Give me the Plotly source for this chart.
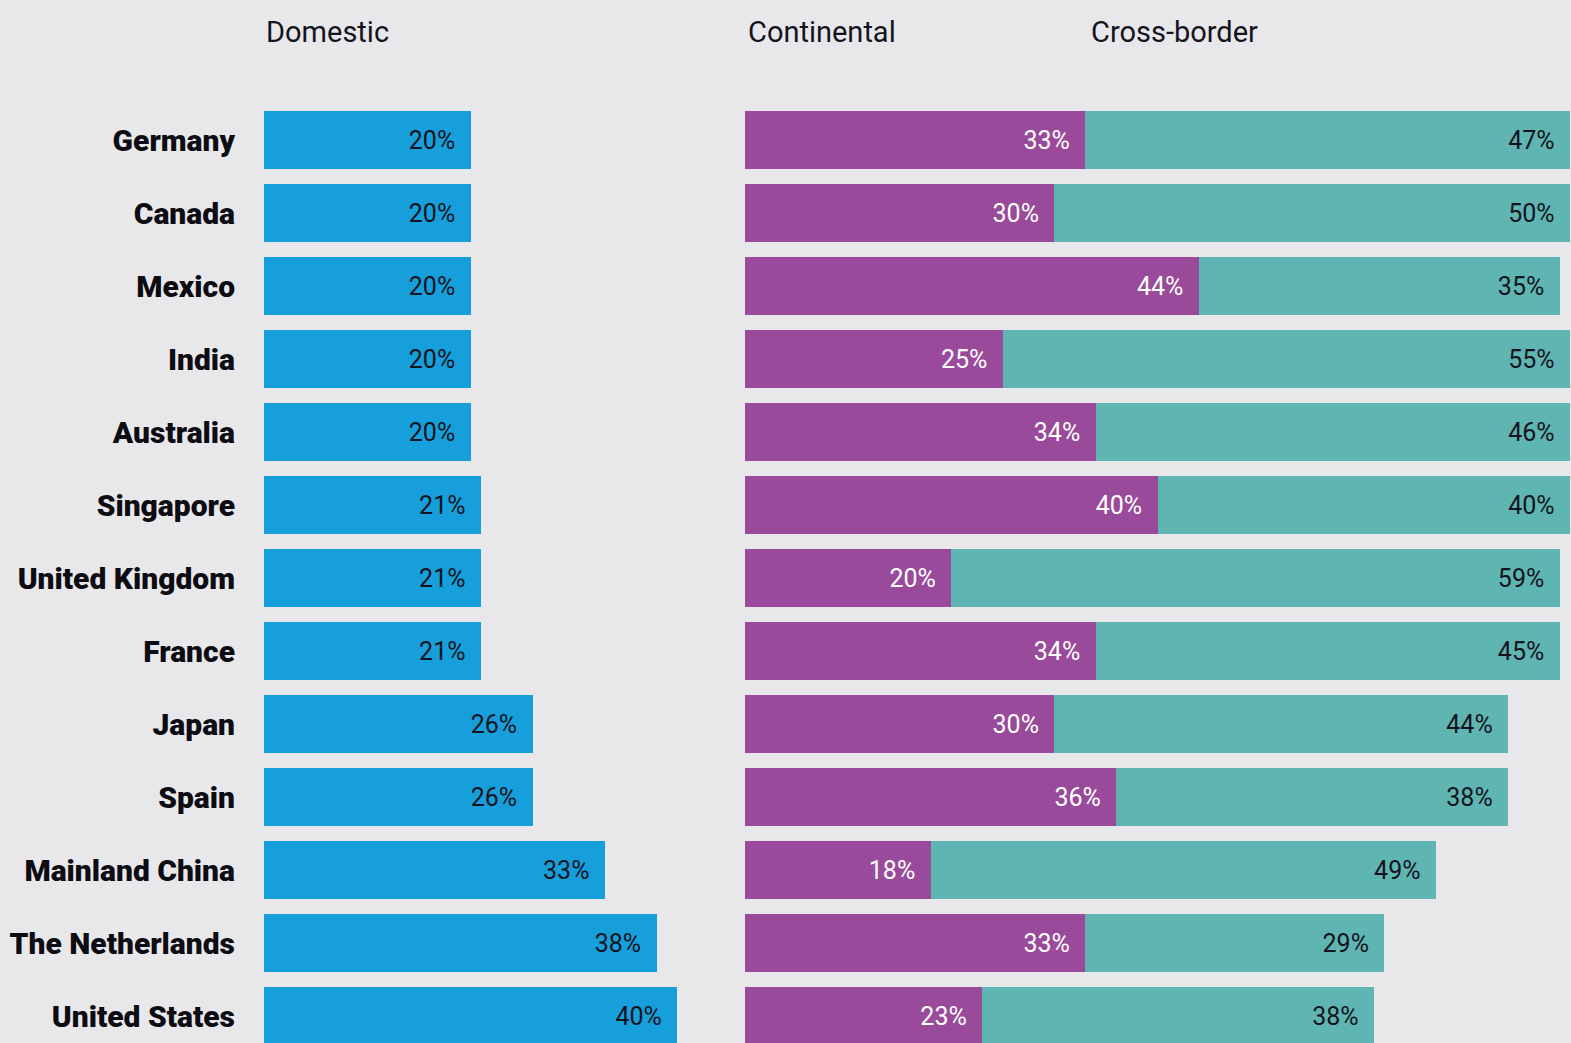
import plotly.graph_objects as go

countries = ["Germany", "Canada", "Mexico", "India", "Australia", "Singapore",
             "United Kingdom", "France", "Japan", "Spain", "Mainland China",
             "The Netherlands", "United States"]
domestic = [20, 20, 20, 20, 20, 21, 21, 21, 26, 26, 33, 38, 40]
continental = [33, 30, 44, 25, 34, 40, 20, 34, 30, 36, 18, 33, 23]
cross_border = [47, 50, 35, 55, 46, 40, 59, 45, 44, 38, 49, 29, 38]

W, H = 1571, 1043
BG = "#e8e8eb"
BLUE = "#169fdb"
PURPLE = "#9a4a9a"
TEAL = "#5fb5b2"
DARK = "#141420"
PAD = "\u00a0\u00a0"

fig = go.Figure()
fig.add_trace(go.Bar(
    y=countries, x=domestic, orientation="h", marker_color=BLUE,
    marker_line_width=0, width=0.8,
    text=[f"{v}%{PAD}" for v in domestic], textposition="inside",
    insidetextanchor="end", textangle=0,
    textfont=dict(family="Roboto", size=25, color=DARK),
    xaxis="x", yaxis="y", showlegend=False, hoverinfo="skip"))
fig.add_trace(go.Bar(
    y=countries, x=continental, orientation="h", marker_color=PURPLE,
    marker_line_width=0, width=0.8,
    text=[f"{v}%{PAD}" for v in continental], textposition="inside",
    insidetextanchor="end", textangle=0,
    textfont=dict(family="Roboto", size=25, color="white"),
    xaxis="x2", yaxis="y2", showlegend=False, hoverinfo="skip"))
fig.add_trace(go.Bar(
    y=countries, x=cross_border, orientation="h", marker_color=TEAL,
    marker_line_width=0, width=0.8,
    text=[f"{v}%{PAD}" for v in cross_border], textposition="inside",
    insidetextanchor="end", textangle=0,
    textfont=dict(family="Roboto", size=25, color=DARK),
    xaxis="x2", yaxis="y2", showlegend=False, hoverinfo="skip"))

px_left = 10.33
left0, left1 = 264, 720
right0, right1 = 745, W
px_right = (right1 - right0 - 1) / 80.0
row0, rowh = 140, 73.0
yr = [(H - row0) / rowh, -row0 / rowh]

fig.update_layout(
    width=W, height=H, margin=dict(l=0, r=0, t=0, b=0),
    paper_bgcolor=BG, plot_bgcolor=BG, barmode="stack",
    xaxis=dict(domain=[left0 / W, left1 / W], range=[0, (left1 - left0) / px_left],
               visible=False, fixedrange=True),
    xaxis2=dict(domain=[right0 / W, 1], range=[0, (right1 - right0) / px_right],
                visible=False, fixedrange=True),
    yaxis=dict(anchor="x", range=yr, showgrid=False, zeroline=False,
               showline=False, ticks="", ticklabelstandoff=28,
               tickfont=dict(family="Roboto", size=30, color="#0c0c12", weight=900)),
    yaxis2=dict(anchor="x2", matches="y", range=yr, showgrid=False,
                zeroline=False, showline=False, showticklabels=False),
    annotations=[
        dict(text="Domestic", x=left0 / W, y=1 - 32 / H, xref="paper", yref="paper",
             xanchor="left", yanchor="middle", showarrow=False,
             font=dict(family="Roboto", size=29, color=DARK)),
        dict(text="Continental", x=746 / W, y=1 - 32 / H, xref="paper", yref="paper",
             xanchor="left", yanchor="middle", showarrow=False,
             font=dict(family="Roboto", size=29, color=DARK)),
        dict(text="Cross-border", x=1089 / W, y=1 - 32 / H, xref="paper", yref="paper",
             xanchor="left", yanchor="middle", showarrow=False,
             font=dict(family="Roboto", size=29, color=DARK)),
    ],
)

fig.write_html("out.html", config={"displayModeBar": False},
               post_script="document.body.style.margin='0';document.body.style.overflow='hidden';")
